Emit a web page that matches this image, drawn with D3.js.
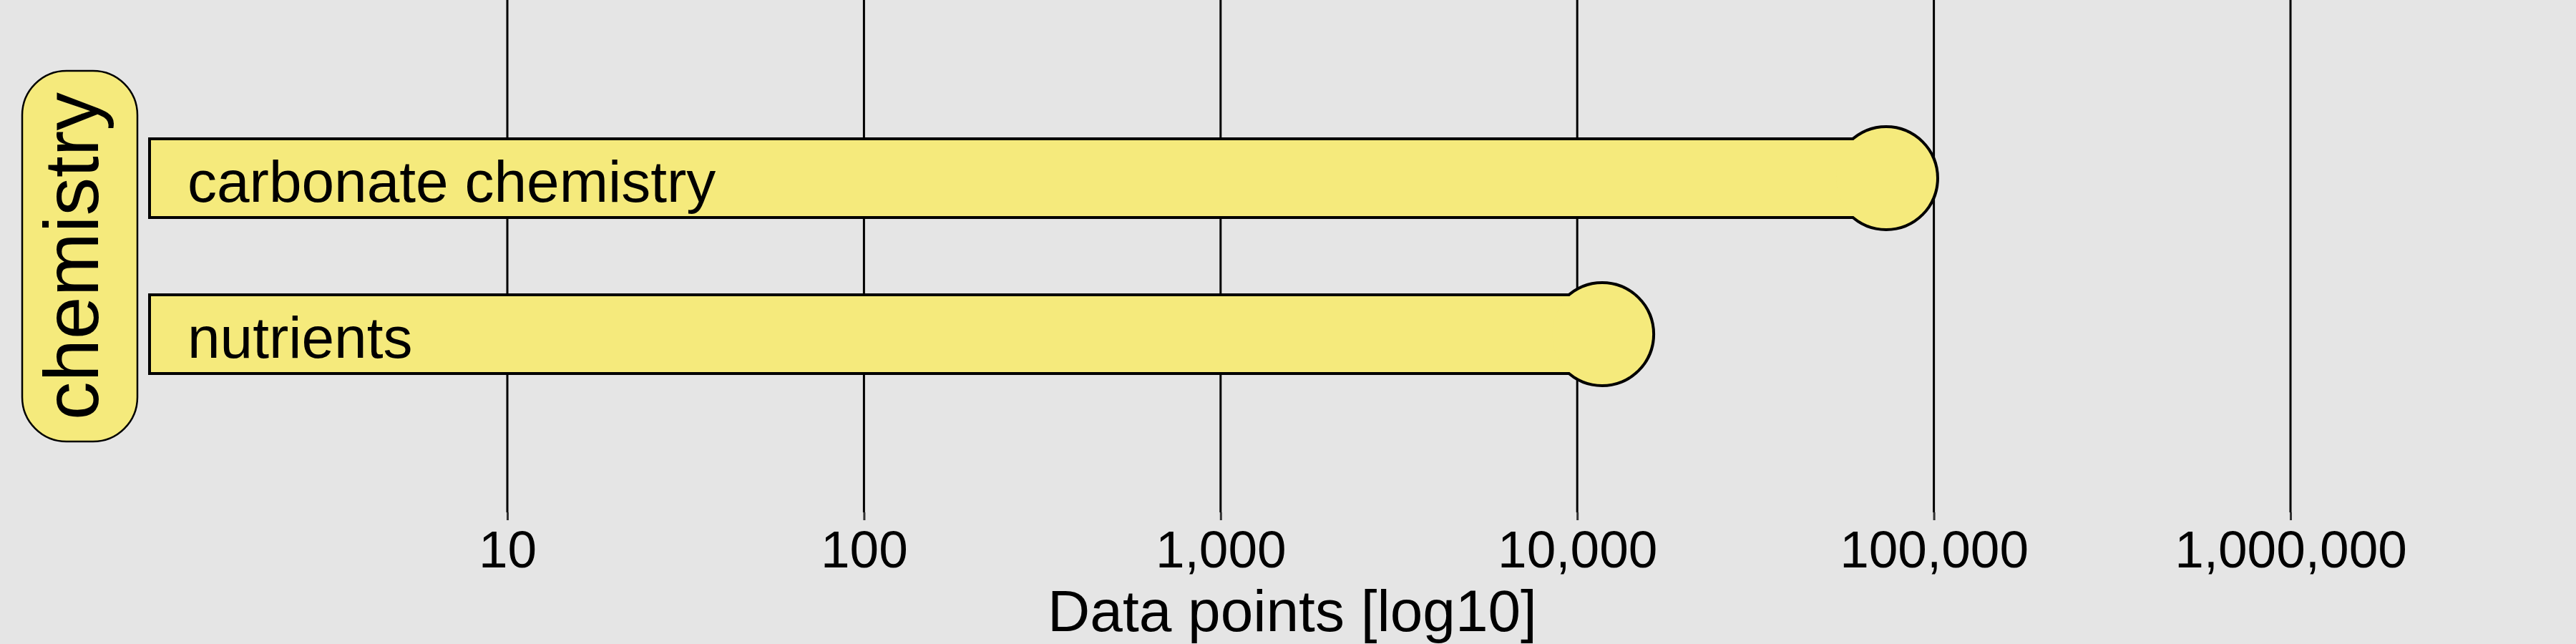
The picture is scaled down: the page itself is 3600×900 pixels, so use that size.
<!DOCTYPE html>
<html>
<head>
<meta charset="utf-8">
<script src="https://cdn.jsdelivr.net/npm/d3@7"></script>
<style>
  html, body { margin: 0; padding: 0; background: #E5E5E5; }
  svg { display: block; }
  text { font-family: "Liberation Sans", Arial, sans-serif; }
</style>
</head>
<body>
<script>
// ---- data ----
const groupName = "chemistry";
const categories = ["carbonate chemistry", "nutrients"];
const values = [73500, 11750];
const tickValues = [10, 100, 1000, 10000, 100000, 1000000];
const tickLabels = ["10", "100", "1,000", "10,000", "100,000", "1,000,000"];
const axisTitle = "Data points [log10]";

// ---- layout ----
const W = 3600, H = 900;
const fillColor = "#F5EA7C";
const bg = "#E5E5E5";
const panelBottom = 716;

const svg = d3.select("body").append("svg").attr("width", W).attr("height", H);
svg.append("rect").attr("width", W).attr("height", H).attr("fill", bg);

const x = d3.scaleLog().domain([1, 1e6]).range([210.6, 3201]);
const y = d3.scalePoint().domain(categories).range([249, 467]);

// grid lines
svg.append("g").selectAll("line").data(tickValues).join("line")
  .attr("x1", d => x(d)).attr("x2", d => x(d))
  .attr("y1", 0).attr("y2", panelBottom)
  .attr("stroke", "#000").attr("stroke-width", 3);

// axis
const axis = d3.axisBottom(x).tickValues(tickValues)
  .tickFormat((d, i) => tickLabels[i]).tickSizeInner(11).tickSizeOuter(0).tickPadding(12);
const gAxis = svg.append("g").attr("transform", `translate(0,${panelBottom})`).call(axis);
gAxis.select(".domain").remove();
gAxis.selectAll(".tick line").attr("stroke", "#333").attr("stroke-width", 3);
gAxis.selectAll(".tick text").attr("font-size", 73).attr("fill", "#000")
  .attr("font-family", "Liberation Sans, Arial, sans-serif")
  .attr("dy", null).attr("y", 77);

svg.append("text").attr("x", 1806).attr("y", 882).attr("text-anchor", "middle")
  .attr("font-size", 82).attr("fill", "#000").text(axisTitle);

// bars: stroke layer then fill layer (union outline)
const data = categories.map((c, i) => ({ c, v: values[i] }));
const barH = 106, r = 70, sw = 8, x0 = 211;
const strokeG = svg.append("g");
const fillG = svg.append("g");
[strokeG, fillG].forEach((g, k) => {
  g.selectAll("rect").data(data).join("rect")
    .attr("x", x0).attr("y", d => y(d.c) - barH / 2)
    .attr("width", d => x(d.v) - x0).attr("height", barH)
    .attr("fill", fillColor)
    .attr("stroke", k === 0 ? "#000" : "none").attr("stroke-width", sw);
  g.selectAll("circle").data(data).join("circle")
    .attr("cx", d => x(d.v)).attr("cy", d => y(d.c)).attr("r", r)
    .attr("fill", fillColor)
    .attr("stroke", k === 0 ? "#000" : "none").attr("stroke-width", sw);
});
svg.append("g").selectAll("text").data(data).join("text")
  .attr("x", 262).attr("y", d => y(d.c) + 33)
  .attr("font-size", 82).attr("fill", "#000").text(d => d.c);

// strip
svg.append("rect").attr("x", 31).attr("y", 99).attr("width", 161).attr("height", 518)
  .attr("rx", 62).attr("ry", 62).attr("fill", fillColor)
  .attr("stroke", "#000").attr("stroke-width", 2.5);
svg.append("text")
  .attr("transform", `translate(137,358) rotate(-90)`)
  .attr("text-anchor", "middle").attr("font-size", 107).attr("fill", "#000")
  .text(groupName);
</script>
</body>
</html>
